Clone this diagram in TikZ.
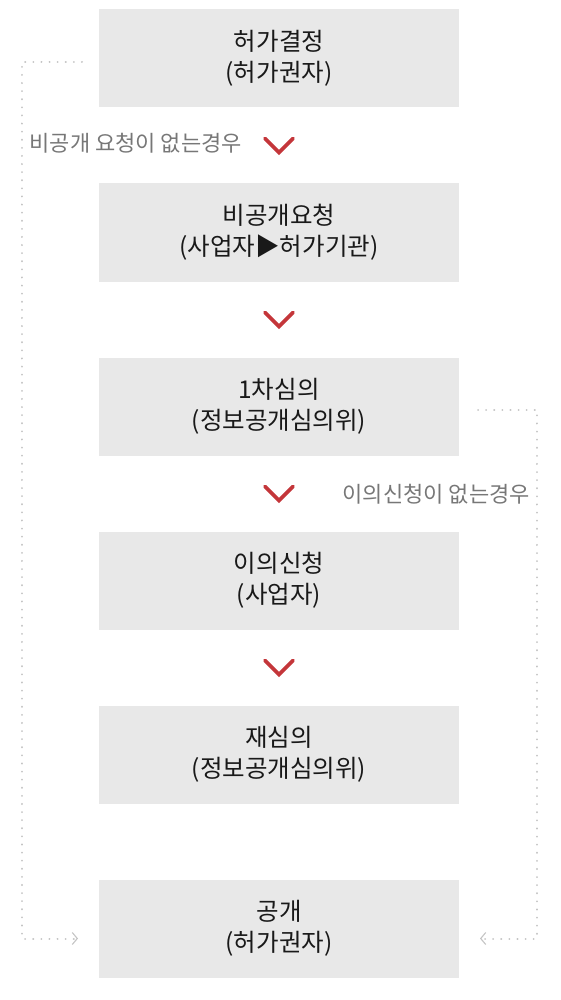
\documentclass[tikz,border=0pt]{standalone}
\usepackage{fontspec}
\setmainfont{Noto Sans CJK KR}
\usetikzlibrary{positioning, calc, arrows.meta}
\definecolor{boxgray}{HTML}{E8E8E8}
\definecolor{chevred}{HTML}{C4363A}
\definecolor{notegray}{HTML}{777777}
\definecolor{dotgray}{HTML}{C4C4C4}
\tikzset{
	x=1pt, y=1pt,
	node distance=76pt, % gap between two steps
	stepbox/.style={fill=boxgray, minimum width=360pt, minimum height=98pt, align=center, inner sep=0pt,
		outer sep=0pt, font=\fontsize{24.5}{31}\selectfont, text=black!90}, % every step of the flow
	chev/.style={draw=chevred, line width=3.6pt, line cap=round, line join=miter}, % red marks between steps
	skip/.style={draw=dotgray, line width=2pt, dash pattern=on 0.1pt off 8pt, line cap=round,
		-{Straight Barb[length=5pt, width=12pt, line width=1.1pt, line cap=butt]}}, % dotted bypass
	note/.style={font=\fontsize{22}{24}\selectfont, text=notegray, inner sep=0pt},
}
\begin{document}
\begin{tikzpicture}
	\useasboundingbox (0,0) rectangle (560,-1000);
	\node[stepbox] at (279,-58.5) (k1) {허가결정\\(허가권자)};
	\node[stepbox, below=of k1] (k2) {비공개요청\\(사업자▶허가기관)};
	\node[stepbox, below=of k2] (k3) {1차심의\\(정보공개심의위)};
	\node[stepbox, below=of k3] (k4) {이의신청\\(사업자)};
	\node[stepbox, below=of k4] (k5) {재심의\\(정보공개심의위)};
	\node[stepbox, below=of k5] (k6) {공개\\(허가권자)};
	% red marks
	\foreach \a/\b in {k1/k2, k2/k3, k3/k4, k4/k5}{
		\coordinate (m) at ($(\a.south)!0.5!(\b.north)$);
		\draw[chev] ([xshift=-14pt, yshift=7pt]m) -- ([yshift=-7pt]m) -- ([xshift=14pt, yshift=7pt]m);
	}
	% bypass lines
	\coordinate (l1) at ([xshift=-17pt, yshift=-3.5pt]k1.west);
	\coordinate (l2) at ([xshift=-21pt, yshift=-10pt]k6.west);
	\coordinate (r1) at ([xshift=19pt, yshift=-3pt]k3.east);
	\coordinate (r2) at ([xshift=21pt, yshift=-10pt]k6.east);
	\draw[skip] (l1) -- (22,0 |- l1) -- (22,0 |- l2) -- (l2);
	\draw[skip] (r1) -- (537,0 |- r1) -- (537,0 |- r2) -- (r2);
	\node[note, anchor=east] at (242,-143) (n1) {비공개 요청이 없는경우};
	\node[note, anchor=east] at (530,-494) (n2) {이의신청이 없는경우};
\end{tikzpicture}
\end{document}
